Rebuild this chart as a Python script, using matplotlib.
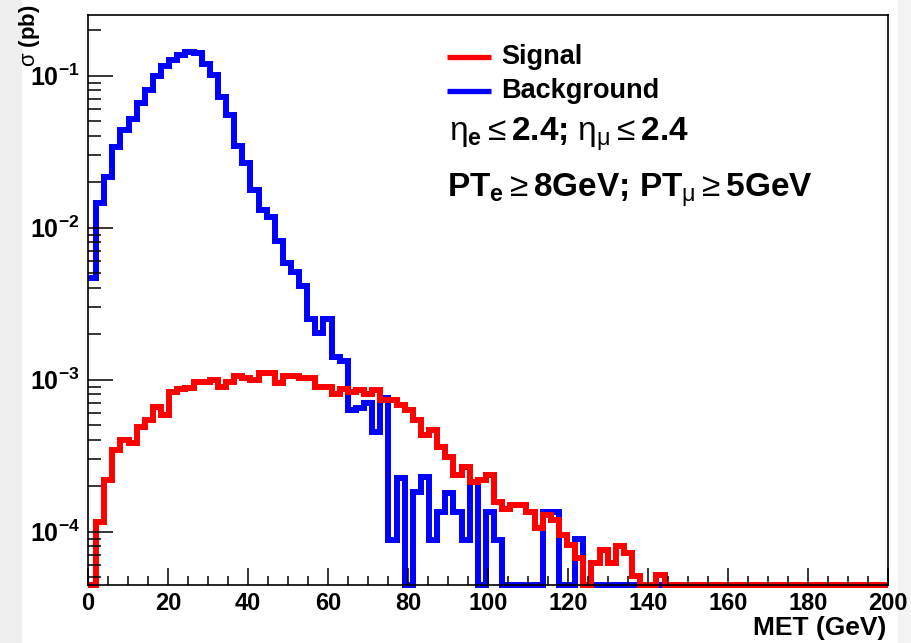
import numpy as np
import matplotlib
matplotlib.use('Agg')
import matplotlib.pyplot as plt
from matplotlib.lines import Line2D
from matplotlib.patches import Rectangle
from matplotlib.transforms import Bbox, TransformedBbox
from matplotlib.ticker import FixedLocator, NullFormatter, MultipleLocator

plt.rcParams['font.family'] = ['Liberation Sans', 'DejaVu Sans']
plt.rcParams['mathtext.fontset'] = 'custom'
plt.rcParams['mathtext.rm'] = 'Liberation Sans'
plt.rcParams['mathtext.bf'] = 'Liberation Sans:bold'
plt.rcParams['mathtext.it'] = 'Liberation Sans:italic'
plt.rcParams['mathtext.sf'] = 'Liberation Sans'

# ---------------- data ----------------
bin_width = 2.03  # GeV

background = [
    4.67e-3, 1.45e-2, 2.17e-2, 3.41e-2, 4.40e-2, 5.16e-2, 6.64e-2, 8.05e-2, 1.00e-1, 1.16e-1,
    1.27e-1, 1.36e-1, 1.43e-1, 1.41e-1, 1.20e-1, 1.01e-1, 7.27e-2, 5.51e-2, 3.45e-2, 2.66e-2,
    1.77e-2, 1.30e-2, 1.18e-2, 8.2e-3, 5.83e-3, 5.14e-3, 4.13e-3, 2.52e-3, 2.04e-3, 2.52e-3,
    1.42e-3, 1.32e-3, 6.3e-4, 6.5e-4, 7.0e-4, 4.5e-4, 7.6e-4, 8.8e-5, 2.24e-4, 0,
    1.83e-4, 2.3e-4, 8.8e-5, 1.35e-4, 1.79e-4, 1.35e-4, 8.8e-5, 2.13e-4, 0, 1.35e-4,
    8.8e-5, 0, 0, 0, 0, 0, 1.35e-4, 1.35e-4, 0, 0,
    9.0e-5, 0, 0, 0, 0, 0, 0, 0, 0, 0,
    0, 0, 0, 0, 0, 0, 0, 0, 0, 0,
    0, 0, 0, 0, 0, 0, 0, 0, 0, 0,
    0, 0, 0, 0, 0, 0, 0, 0, 0,
]

signal = [
    0, 1.15e-4, 2.19e-4, 3.44e-4, 4.0e-4, 3.85e-4, 4.9e-4, 5.4e-4, 6.6e-4, 5.9e-4,
    8.3e-4, 8.7e-4, 8.8e-4, 9.6e-4, 9.7e-4, 9.9e-4, 9.0e-4, 9.6e-4, 1.06e-3, 1.02e-3,
    9.9e-4, 1.1e-3, 1.1e-3, 9.5e-4, 1.06e-3, 1.06e-3, 1.03e-3, 1.02e-3, 9.0e-4, 9.0e-4,
    8.1e-4, 8.7e-4, 8.3e-4, 8.6e-4, 8.1e-4, 8.6e-4, 7.4e-4, 7.3e-4, 6.8e-4, 6.3e-4,
    5.4e-4, 4.3e-4, 4.7e-4, 3.6e-4, 3.1e-4, 2.35e-4, 2.66e-4, 2.13e-4, 2.2e-4, 2.35e-4,
    1.57e-4, 1.4e-4, 1.5e-4, 1.5e-4, 1.35e-4, 1.05e-4, 1.29e-4, 1.2e-4, 9.5e-5, 8.2e-5,
    6.7e-5, 0, 6.2e-5, 7.6e-5, 6.2e-5, 8.0e-5, 7.2e-5, 5.1e-5, 0, 0,
    5.2e-5, 0, 0, 0, 0, 0, 0, 0, 0, 0,
    0, 0, 0, 0, 0, 0, 0, 0, 0, 0,
    0, 0, 0, 0, 0, 0, 0, 0, 0,
]

y_ticks = [1e-4, 1e-3, 1e-2, 1e-1]
y_tick_labels = [r'$\mathbf{10^{-4}}$', r'$\mathbf{10^{-3}}$', r'$\mathbf{10^{-2}}$', r'$\mathbf{10^{-1}}$']
x_ticks = [0, 20, 40, 60, 80, 100, 120, 140, 160, 180, 200]
legend_labels = ['Signal', 'Background']

# ---------------- figure ----------------
W, H = 912, 643
fig = plt.figure(figsize=(W / 100, H / 100), dpi=100)
fig.patch.set_facecolor('white')
fig.patches.append(Rectangle((0, 0), 22 / W, 1, transform=fig.transFigure,
                             facecolor='#efefef', edgecolor='none', zorder=-10))
fig.patches.append(Rectangle((1 - 14 / W, 0), 14 / W, 1, transform=fig.transFigure,
                             facecolor='#f3f3f3', edgecolor='none', zorder=-10))

left, right, top, bottom = 88, 888, 15, 585
ax = fig.add_axes([left / W, 1 - bottom / H, (right - left) / W, (bottom - top) / H])

ymin, ymax = 4.46e-5, 0.2507
ax.set_yscale('log')
ax.set_xlim(0, 200)
ax.set_ylim(ymin, ymax)

edges = np.arange(len(background) + 1) * bin_width
clip = TransformedBbox(Bbox([[0, -0.03], [1, 1]]), ax.transAxes)

for vals, col in [(background, '#0000ff'), (signal, '#ff0000')]:
    v = np.maximum(np.asarray(vals, dtype=float), ymin)
    st = ax.stairs(v, edges, baseline=None, color=col, linewidth=4.3)
    st.set_joinstyle('miter')
    st.set_capstyle('butt')
    st.set_clip_box(clip)

# ticks
ax.yaxis.set_major_locator(FixedLocator(y_ticks))
ax.set_yticklabels(y_tick_labels)
minors = [m * 10.0 ** e for e in range(-5, 0) for m in range(2, 10)]
ax.yaxis.set_minor_locator(FixedLocator(minors))
ax.yaxis.set_minor_formatter(NullFormatter())
ax.xaxis.set_major_locator(FixedLocator(x_ticks))
ax.set_xticklabels([str(t) for t in x_ticks])
ax.xaxis.set_minor_locator(MultipleLocator(5))

ax.tick_params(axis='y', which='major', direction='in', length=18, width=1.1, labelsize=18, pad=6)
ax.tick_params(axis='y', which='minor', direction='in', length=9, width=1.1)
ax.tick_params(axis='x', which='major', direction='in', length=12, width=1.1, labelsize=17, pad=5)
ax.tick_params(axis='x', which='minor', direction='in', length=6.5, width=1.1)
for lab in ax.get_xticklabels():
    lab.set_fontweight('bold')
for sp in ax.spines.values():
    sp.set_linewidth(1.2)

# axis titles
fig.text(30 / W, 1 - 4 / H, r'$\mathrm{\sigma}$ (pb)', rotation=90, ha='center', va='top',
         fontsize=16, fontweight='bold')
fig.text(886 / W, 1 - 628 / H, 'MET (GeV)', ha='right', va='center',
         fontsize=19, fontweight='bold')

# legend
for i, (lab, col) in enumerate(zip(legend_labels, ['#ff0000', '#0000ff'])):
    yy = 1 - (57 + 34 * i) / H
    fig.add_artist(Line2D([447 / W, 491 / W], [yy, yy], color=col, linewidth=3.8,
                          transform=fig.transFigure, solid_capstyle='butt'))
    fig.text(501 / W, yy, lab, ha='left', va='center', fontsize=19.5, fontweight='bold')

fig.text(449 / W, 1 - 142 / H,
         r'$\mathrm{\eta}_{\mathbf{e}}\leq$2.4; $\mathrm{\eta}_{\mathrm{\mu}}\leq$2.4',
         ha='left', va='baseline', fontsize=24, fontweight='bold')
fig.text(447 / W, 1 - 198 / H,
         r'PT$_{\mathbf{e}}\geq$8GeV; PT$_{\mathrm{\mu}}\geq$5GeV',
         ha='left', va='baseline', fontsize=24, fontweight='bold')

fig.savefig('out.png', dpi=100)
